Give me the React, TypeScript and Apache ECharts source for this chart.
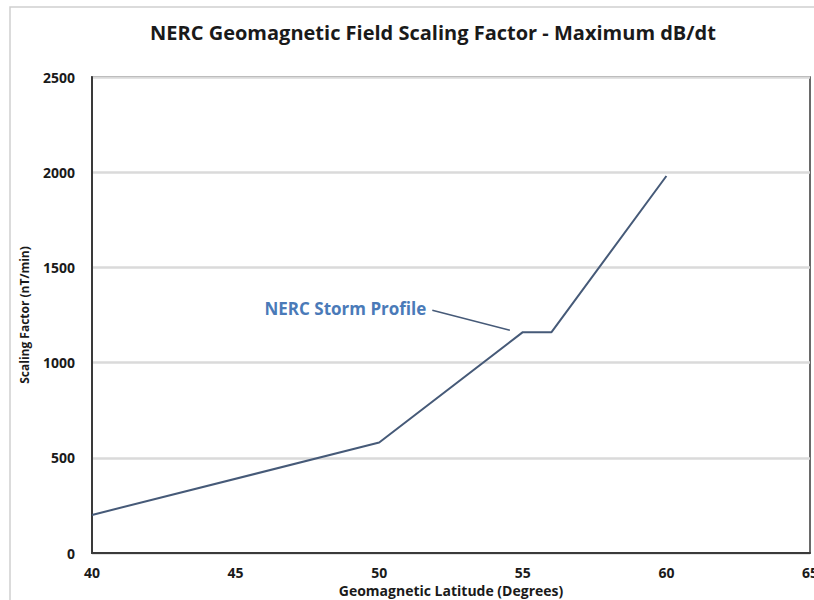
import React, { useEffect, useRef } from "react";
import * as echarts from "echarts";

const latitudes = [40, 50, 55, 56, 60];
const scaling = [200, 580, 1160, 1160, 1980];
const titleText = "NERC Geomagnetic Field Scaling Factor - Maximum dB/dt";
const xName = "Geomagnetic Latitude (Degrees)";
const yName = "Scaling Factor (nT/min)";
const annotationText = "NERC Storm Profile";
const annotationFrom = [51.85, 1275];
const annotationTo = [54.55, 1170];

export default function App() {
  const ref = useRef<HTMLDivElement>(null);
  useEffect(() => {
    if (!ref.current) return;
    const chart = echarts.init(ref.current, null, { renderer: "svg" });
    const font = "'Open Sans', 'Noto Sans', sans-serif";
    const frame = {
      type: "rect",
      shape: { x: 10, y: 7, width: 820, height: 620 },
      style: { fill: "none", stroke: "#cfcfcf", lineWidth: 1.5 },
      silent: true,
      z: -1,
    };
    chart.setOption({
      animation: false,
      backgroundColor: "#ffffff",
      title: {
        text: titleText,
        left: 428,
        top: 17,
        textAlign: "center",
        textStyle: { fontFamily: font, fontSize: 20, fontWeight: "bold", color: "#1a1a1a" },
      },
      grid: {
        left: 92,
        right: 4,
        top: 77,
        bottom: 47,
        show: true,
        borderColor: "#3a3a3a",
        borderWidth: 1.5,
        backgroundColor: "transparent",
        outerBoundsMode: "none",
        containLabel: false,
      },
      xAxis: {
        type: "value",
        min: 40,
        max: 65,
        interval: 5,
        name: xName,
        nameLocation: "middle",
        nameGap: 30,
        nameTextStyle: { fontFamily: font, fontSize: 14, fontWeight: "bold", color: "#1a1a1a" },
        axisLine: { show: true, lineStyle: { color: "#3a3a3a", width: 2 } },
        axisTick: { show: false },
        splitLine: { show: false },
        axisLabel: {
          fontFamily: font, fontSize: 14, fontWeight: "bold", color: "#1a1a1a", margin: 12,
          showMaxLabel: true, hideOverlap: false,
        },
      },
      yAxis: {
        type: "value",
        min: 0,
        max: 2500,
        interval: 500,
        name: yName,
        nameLocation: "middle",
        nameGap: 62,
        nameTextStyle: { fontFamily: font, fontSize: 12, fontWeight: "bold", color: "#1a1a1a" },
        axisLine: { show: true, lineStyle: { color: "#3a3a3a", width: 2 } },
        axisTick: { show: false },
        splitLine: { show: true, lineStyle: { color: "#dadada", width: 2.5 } },
        axisLabel: {
          fontFamily: font, fontSize: 14, fontWeight: "bold", color: "#1a1a1a", margin: 17,
          formatter: (v: number) => String(v),
        },
      },
      series: [
        {
          type: "line",
          data: latitudes.map((x, i) => [x, scaling[i]]),
          showSymbol: false,
          symbol: "none",
          lineStyle: { color: "#465a78", width: 2 },
          markLine: {
            silent: true,
            symbol: ["none", "none"],
            label: { show: false },
            lineStyle: { color: "#465a78", width: 1.5, type: "solid" },
            data: [[{ coord: annotationFrom }, { coord: annotationTo }]],
          },
        },
      ],
      graphic: [frame],
    });
    const p = chart.convertToPixel({ gridIndex: 0 }, annotationFrom) as number[];
    chart.setOption({
      graphic: [
        frame,
        {
          type: "text",
          x: p[0] - 6,
          y: p[1] - 2,
          style: {
            text: annotationText,
            fontFamily: font,
            fontSize: 17,
            fontWeight: "bold",
            fill: "#4a7ab8",
            align: "right",
            verticalAlign: "middle",
          },
        },
      ],
    });
    return () => chart.dispose();
  }, []);
  return <div ref={ref} style={{ position: "fixed", left: 0, top: 0, width: 814, height: 600 }} />;
}
